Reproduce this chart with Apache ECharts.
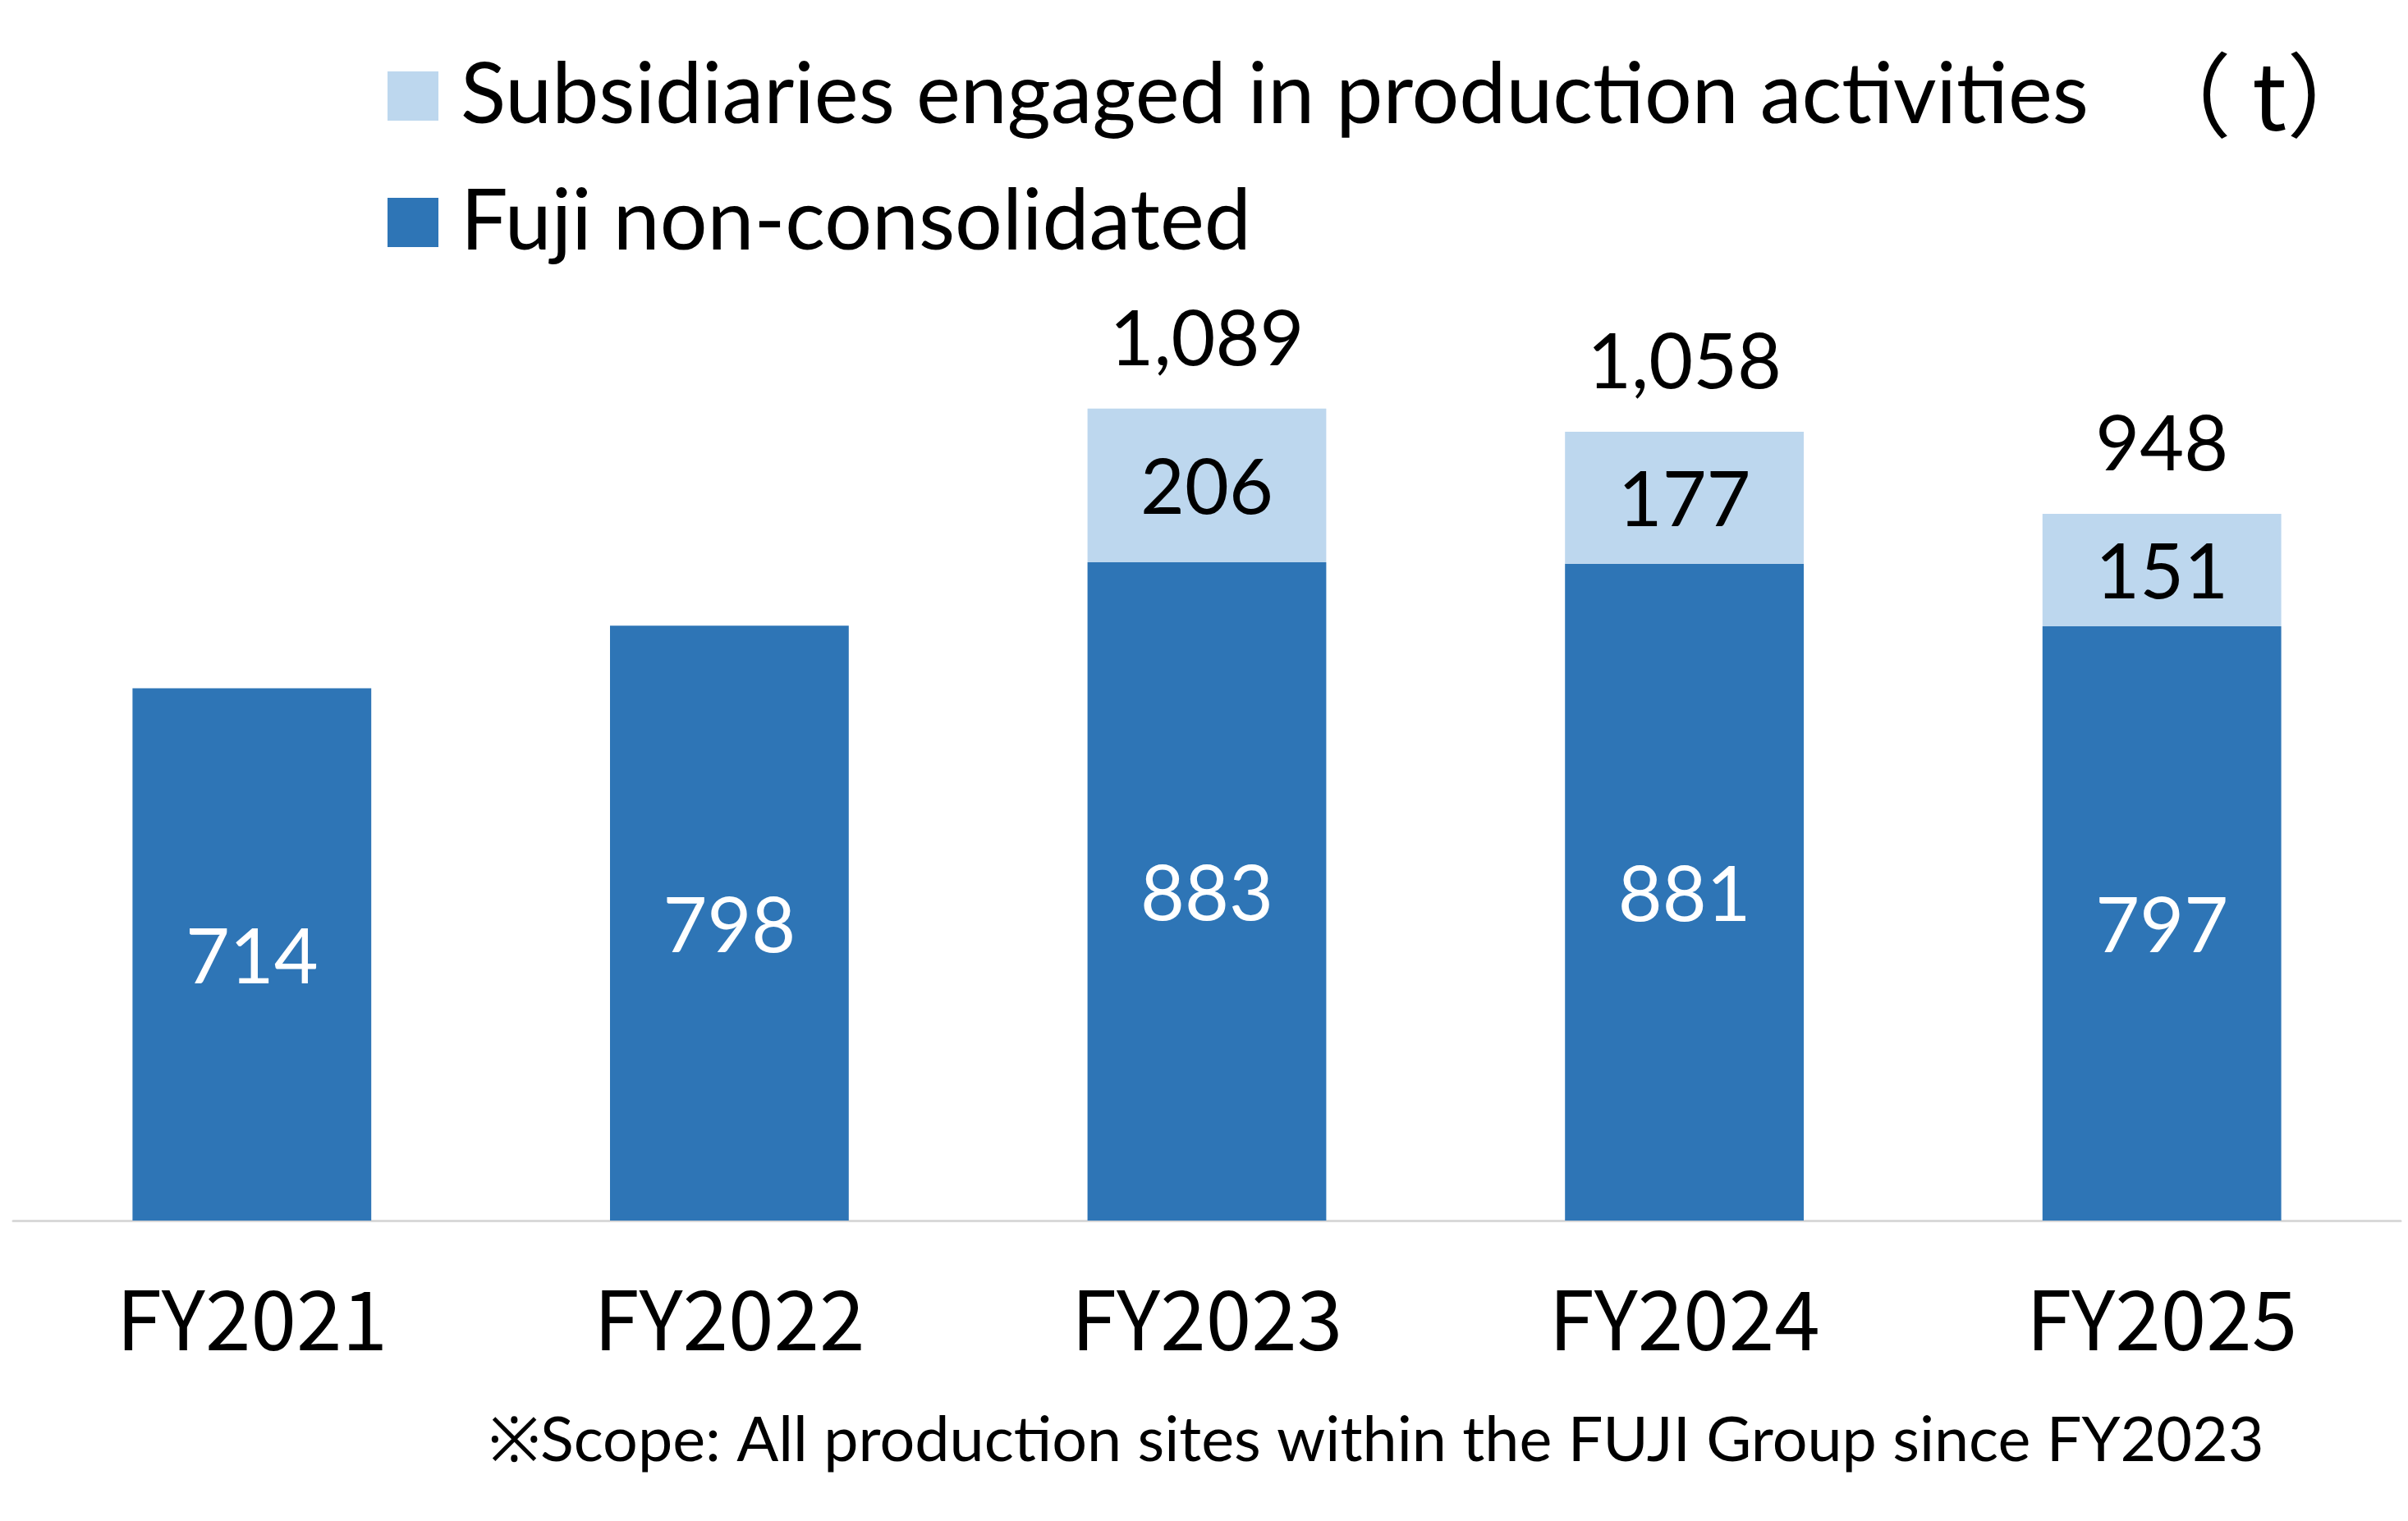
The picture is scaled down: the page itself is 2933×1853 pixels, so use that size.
<!DOCTYPE html>
<html><head><meta charset="utf-8">
<script src="https://cdn.jsdelivr.net/npm/echarts@6/dist/echarts.min.js"></script>
<style>html,body{margin:0;padding:0;background:#fff}#c{width:2933px;height:1853px}</style>
</head><body><div id="c"></div>
<script>
const categories = ['FY2021','FY2022','FY2023','FY2024','FY2025'];
const fujiValues = [714, 798, 883, 881, 797];
const subsidiaryValues = [null, null, 206, 177, 151];
const totalValues = [null, null, 1089, 1058, 948];
const seriesNames = ['Subsidiaries engaged in production activities', 'Fuji non-consolidated'];
const unitText = '（ t）';
const footnote = '※Scope: All production sites within the FUJI Group since FY2023';

const chart = echarts.init(document.getElementById('c'));
const numFont = 'Lato';
chart.setOption({
  animation: false,
  backgroundColor: '#ffffff',
  grid: {left: 16, right: 9, top: 397, bottom: 366, containLabel: false},
  legend: {
    data: [seriesNames[0], seriesNames[1]],
    orient: 'vertical', left: 472, top: 66, padding: 0,
    itemWidth: 62, itemHeight: 60, itemGap: 52,
    icon: 'rect',
    textStyle: {fontFamily: numFont, fontSize: 102, color: '#000', padding: [0,0,0,22]}
  },
  xAxis: {
    type: 'category', data: categories,
    axisLine: {show: true, lineStyle: {color: '#d9d9d9', width: 3}},
    axisTick: {show: false},
    axisLabel: {fontFamily: 'Noto Sans CJK JP', fontSize: 100, color: '#000', margin: 70}
  },
  yAxis: {type: 'value', min: 0, max: 1200, show: false, splitLine: {show: false}},
  series: [
    {
      name: seriesNames[1], type: 'bar', stack: 'a', data: fujiValues,
      barCategoryGap: '50%',
      itemStyle: {color: '#2e75b6'},
      label: {show: true, position: 'inside', offset: [0, 5], color: '#fff', fontFamily: numFont, fontSize: 93}
    },
    {
      name: seriesNames[0], type: 'bar', stack: 'a', data: subsidiaryValues,
      barCategoryGap: '50%',
      itemStyle: {color: '#bdd7ee'},
      label: {show: true, position: 'inside', offset: [0, 5], color: '#000', fontFamily: numFont, fontSize: 93}
    },
    {
      name: 'total', type: 'scatter', data: totalValues,
      symbolSize: 0, itemStyle: {color: '#000', opacity: 1},
      label: {show: true, position: 'top', distance: 36, color: '#000', fontFamily: numFont, fontSize: 93,
        formatter: p => p.value == null ? '' : Number(p.value).toLocaleString('en-US')}
    }
  ],
  graphic: [
    {type: 'text', left: 2606, top: 60, style: {text: unitText, font: '112px "Noto Sans CJK JP"', fill: '#000'}},
    {type: 'text', left: 595, top: 1718, style: {text: footnote, font: '75.5px Lato', fill: '#000'}}
  ]
});
</script></body></html>
